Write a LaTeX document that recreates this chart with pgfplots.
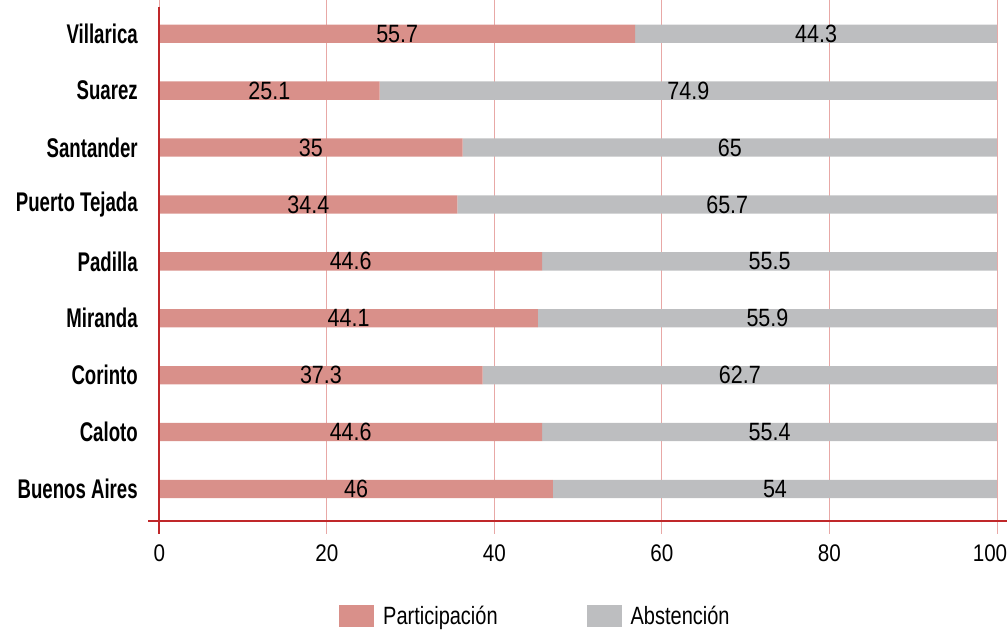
\documentclass[border=0pt]{standalone}
\usepackage{fontspec}
\setmainfont{Liberation Sans}[FakeStretch=0.8]
\newfontfamily\labfont{Liberation Sans}[FakeStretch=0.69]
\newfontfamily\numfont{Liberation Sans}[FakeStretch=0.86]
\usepackage{pgfplots}
\usepackage{pgfplotstable}
\pgfplotsset{compat=1.18}

\definecolor{partcol}{HTML}{D9908A}
\definecolor{abscol}{HTML}{BDBEC0}
\definecolor{axisred}{HTML}{C0282A}
\definecolor{gridpink}{HTML}{E8A8A6}

% y: 0 = Buenos Aires ... 8 = Villarica
% p/a = drawn bar lengths, pl/al = printed labels
\pgfplotstableread{
y  p     pl    a     al
0  47.0  46    53.0  54
1  45.7  44.6  54.3  55.4
2  38.6  37.3  61.4  62.7
3  45.2  44.1  54.8  55.9
4  45.7  44.6  54.3  55.5
5  35.6  34.4  64.4  65.7
6  36.2  35    63.8  65
7  26.3  25.1  73.7  74.9
8  56.8  55.7  43.2  44.3
}\datatab

\begin{document}
\begin{tikzpicture}
\begin{axis}[
  scale only axis,
  width=838pt, height=514pt,
  xbar stacked,
  bar width=18.3pt,
  xmin=0, xmax=100,
  ymin=-0.56, ymax=8.47,
  xtick={0,20,40,60,80},
  extra x ticks={100},
  extra x tick style={xticklabel style={xshift=-7pt}},
  ytick={0,...,8},
  yticklabels={Buenos Aires,Caloto,Corinto,Miranda,Padilla,Puerto Tejada,Santander,Suarez,Villarica},
  /pgf/number format/assume math mode=true,
  xmajorgrids,
  grid style={gridpink, line width=1pt},
  axis line style={draw=none},
  tick align=outside,
  major tick length=13pt,
  xtick style={gridpink, line width=1pt},
  ytick style={draw=none},
  xticklabel style={font=\numfont\fontsize{24}{24}\selectfont, inner sep=0pt, yshift=-11pt},
  yticklabel style={font=\labfont\bfseries\fontsize{27}{27}\selectfont, xshift=-5pt},
  clip=false,
  point meta=explicit symbolic,
  nodes near coords,
  every node near coord/.append style={font=\numfont\fontsize{25}{25}\selectfont, anchor=center},
  legend style={draw=none, fill=none, at={(0.449,-0.185)}, anchor=center,
    legend columns=2, font=\fontsize{25}{25}\selectfont,
    /tikz/every odd column/.append style={column sep=7pt},
    /tikz/every even column/.append style={column sep=87pt}},
  legend image code/.code={\fill[#1] (0pt,-11pt) rectangle (35pt,11pt);},
  after end axis/.code={
    \draw[gridpink, line width=1pt] (axis cs:100,8.47) -- ([yshift=-13pt]axis cs:100,-0.56);
    \draw[axisred, line width=2pt] (rel axis cs:0,1) -- ([yshift=-13pt]rel axis cs:0,0);
    \draw[axisred, line width=2pt] ([xshift=-11pt]rel axis cs:0,0) -- ([xshift=10pt]rel axis cs:1,0);
    \coordinate (SW) at ([xshift=-159.3pt,yshift=-109pt]rel axis cs:0,0);
    \coordinate (NE) at ([xshift=10pt,yshift=7pt]rel axis cs:1,1);
  },
]
\addplot[fill=partcol, draw=none] table[x=p, y=y, meta=pl] {\datatab};
\addplot[fill=abscol, draw=none] table[x=a, y=y, meta=al] {\datatab};
\legend{Participación, Abstención}
\end{axis}
\pgfresetboundingbox
\path[use as bounding box] (SW) rectangle (NE);
\end{tikzpicture}
\end{document}
